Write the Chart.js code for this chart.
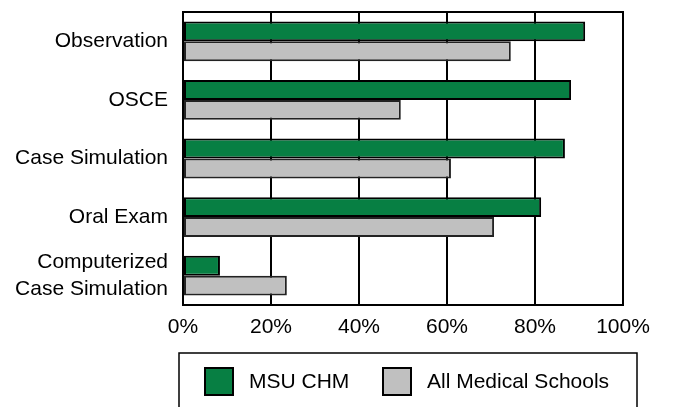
<!DOCTYPE html>
<html>
<head>
<meta charset="utf-8">
<script src="https://cdn.jsdelivr.net/npm/chart.js@4"></script>
<style>
  html, body { margin: 0; padding: 0; background: #fff; }
  #wrap { width: 673px; height: 407px; }
</style>
</head>
<body>
<div id="wrap"><canvas id="chart" width="673" height="407"></canvas></div>
<script>
// chart data
const categories = [
  "Observation",
  "OSCE",
  "Case Simulation",
  "Oral Exam",
  ["Computerized", "Case Simulation"]
];
const msuChm = [91.4, 88.2, 86.8, 81.4, 8.4];
const allSchools = [74.5, 49.5, 60.9, 70.7, 23.6];
const seriesNames = ["MSU CHM", "All Medical Schools"];
const xTicks = [0, 20, 40, 60, 80, 100];

const green = "#077f43";
const gray = "#c0c0c0";
const font = "'Liberation Sans', Arial, sans-serif";

// box round the plot + the boxed legend under the chart
const frameAndLegend = {
  id: "frameAndLegend",
  afterDraw(chart) {
    const ctx = chart.ctx;
    const a = chart.chartArea;
    ctx.save();
    ctx.strokeStyle = "#000";
    ctx.lineWidth = 2;
    ctx.strokeRect(a.left, a.top, a.right - a.left, a.bottom - a.top);

    // legend
    ctx.lineWidth = 1.5;
    ctx.strokeRect(179, 353, 458, 70);
    const items = [
      { x: 205, color: green, text: seriesNames[0] },
      { x: 383, color: gray, text: seriesNames[1] }
    ];
    ctx.font = "21px " + font;
    ctx.textBaseline = "middle";
    items.forEach((it) => {
      ctx.fillStyle = it.color;
      ctx.fillRect(it.x, 368, 28, 27);
      ctx.strokeStyle = "#000";
      ctx.lineWidth = 2;
      ctx.strokeRect(it.x, 368, 28, 27);
      ctx.fillStyle = "#000";
      ctx.fillText(it.text, it.x + 44, 382);
    });
    ctx.restore();
  }
};

new Chart(document.getElementById("chart").getContext("2d"), {
  type: "bar",
  data: {
    labels: categories,
    datasets: [
      {
        label: seriesNames[0],
        data: msuChm,
        backgroundColor: green,
        borderColor: "#000",
        borderWidth: 2,
        borderSkipped: false
      },
      {
        label: seriesNames[1],
        data: allSchools,
        backgroundColor: gray,
        borderColor: "#222",
        borderWidth: 2,
        borderSkipped: false
      }
    ]
  },
  options: {
    indexAxis: "y",
    responsive: false,
    animation: false,
    categoryPercentage: 0.68,
    barPercentage: 1,
    layout: { padding: { top: 12, right: 50, left: 0, bottom: 0 } },
    plugins: {
      legend: { display: false },
      tooltip: { enabled: false }
    },
    scales: {
      x: {
        min: 0,
        max: 100,
        afterBuildTicks: (axis) => {
          axis.ticks = xTicks.map((v) => ({ value: v }));
        },
        afterFit: (axis) => {
          axis.height = 102;
          axis.paddingLeft = 0;
          axis.paddingRight = 0;
        },
        grid: { color: "#000", lineWidth: 2, drawTicks: false },
        border: { display: false },
        ticks: {
          padding: 10,
          color: "#000",
          font: { family: font, size: 21 },
          callback: (v) => v + "%"
        }
      },
      y: {
        afterFit: (axis) => {
          axis.width = 183;
          axis.paddingTop = 0;
          axis.paddingBottom = 0;
        },
        grid: { display: false, drawTicks: false },
        border: { display: false },
        ticks: {
          autoSkip: false,
          padding: 15,
          color: "#000",
          font: { family: font, size: 21, lineHeight: 1.3 }
        }
      }
    }
  },
  plugins: [frameAndLegend]
});
</script>
</body>
</html>
